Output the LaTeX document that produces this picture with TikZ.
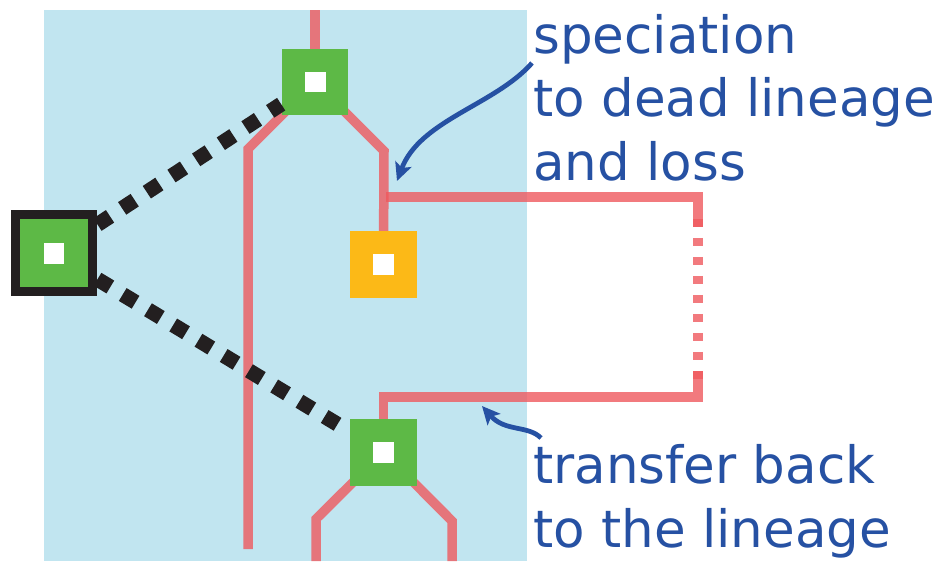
\documentclass[tikz,border=0pt]{standalone}
\usepackage{fontspec}
\setmainfont{DejaVu Sans}
\usepackage{tikz}
\usetikzlibrary{
    arrows.meta,
    backgrounds
}

\definecolor{poolblue}{RGB}{193,229,240}
\definecolor{genered}{RGB}{239,89,94}
\definecolor{specgreen}{RGB}{93,185,70}
\definecolor{lossyellow}{RGB}{252,185,23}
\definecolor{linkdark}{RGB}{35,31,32}
\definecolor{noteblue}{RGB}{38,81,163}

\tikzset{
    branch/.style={genered, opacity=0.8, line width=0.19cm},
    event/.style={minimum size=1.34cm, inner sep=0pt,
        path picture={\fill[white] ([shift={(-0.21cm,-0.21cm)}]path picture bounding box.center)
            rectangle ([shift={(0.21cm,0.21cm)}]path picture bounding box.center);}},
    link/.style={linkdark, line width=0.3cm, dash pattern=on 0.3cm off 0.29cm},
    note/.style={noteblue, line width=0.095cm, -{Stealth[length=0.36cm, width=0.34cm, inset=0.08cm]}},
    notetext/.style={noteblue, inner sep=0pt, align=left, anchor=base west,
        font=\fontsize{29.3}{36.1}\selectfont}
}

\begin{document}
\begin{tikzpicture}[x=0.02cm, y=-0.02cm]
        \useasboundingbox (0,0) rectangle (936,561);

        % Events (boxes)
        \node[event, fill=specgreen] (spec1) at (315,82) {};
        \node[event, fill=lossyellow] (loss) at (383.5,264.5) {};
        \node[event, fill=specgreen] (transfer) at (383.5,452) {};
        \node[event, fill=specgreen, draw=linkdark, line width=0.18cm, minimum size=1.56cm] (root) at (54,253) {};

        \begin{scope}[on background layer]
            % Species tree area
            \fill[poolblue] (44,10) rectangle (527,561);

            % Gene lineages
            \draw[branch] (315,10) -- (spec1.center);
            \draw[branch] (spec1.center) -- (248,149) -- (248,549);
            \draw[branch] (spec1.center) -- (384,151) -- (loss.center);
            \draw[branch] (386,197) -- (698,197) -- (698,227);
            \draw[branch, dash pattern=on 0.16cm off 0.22cm] (698,219) -- (698,381);
            \draw[branch] (698,371) -- (698,397) -- (383.5,397) -- (transfer.center);
            \draw[branch] (transfer.center) -- (316,519) -- (316,561);
            \draw[branch] (transfer.center) -- (452,521) -- (452,561);
        \end{scope}

        % Mapping of the root
        \draw[link] (root) -- (spec1);
        \draw[link] (root) -- (transfer);

        % Annotations
        \coordinate (deadfrom) at (532,63);
        \coordinate (deadtip) at (397,181);
        \coordinate (backfrom) at (541,438);
        \coordinate (backtip) at (482,406);
        \draw[note] (deadfrom) .. controls (495,105) and (420,120) .. (deadtip);
        \draw[note] (backfrom) .. controls (528,425) and (505,432) .. (backtip);

        % anchor sits on the last line
        \node[notetext] (deadnote) at (533,180) {speciation\\to dead lineage\\and loss};
        \node[notetext] (backnote) at (533,547) {transfer back\\to the lineage};
    \end{tikzpicture}
\end{document}
